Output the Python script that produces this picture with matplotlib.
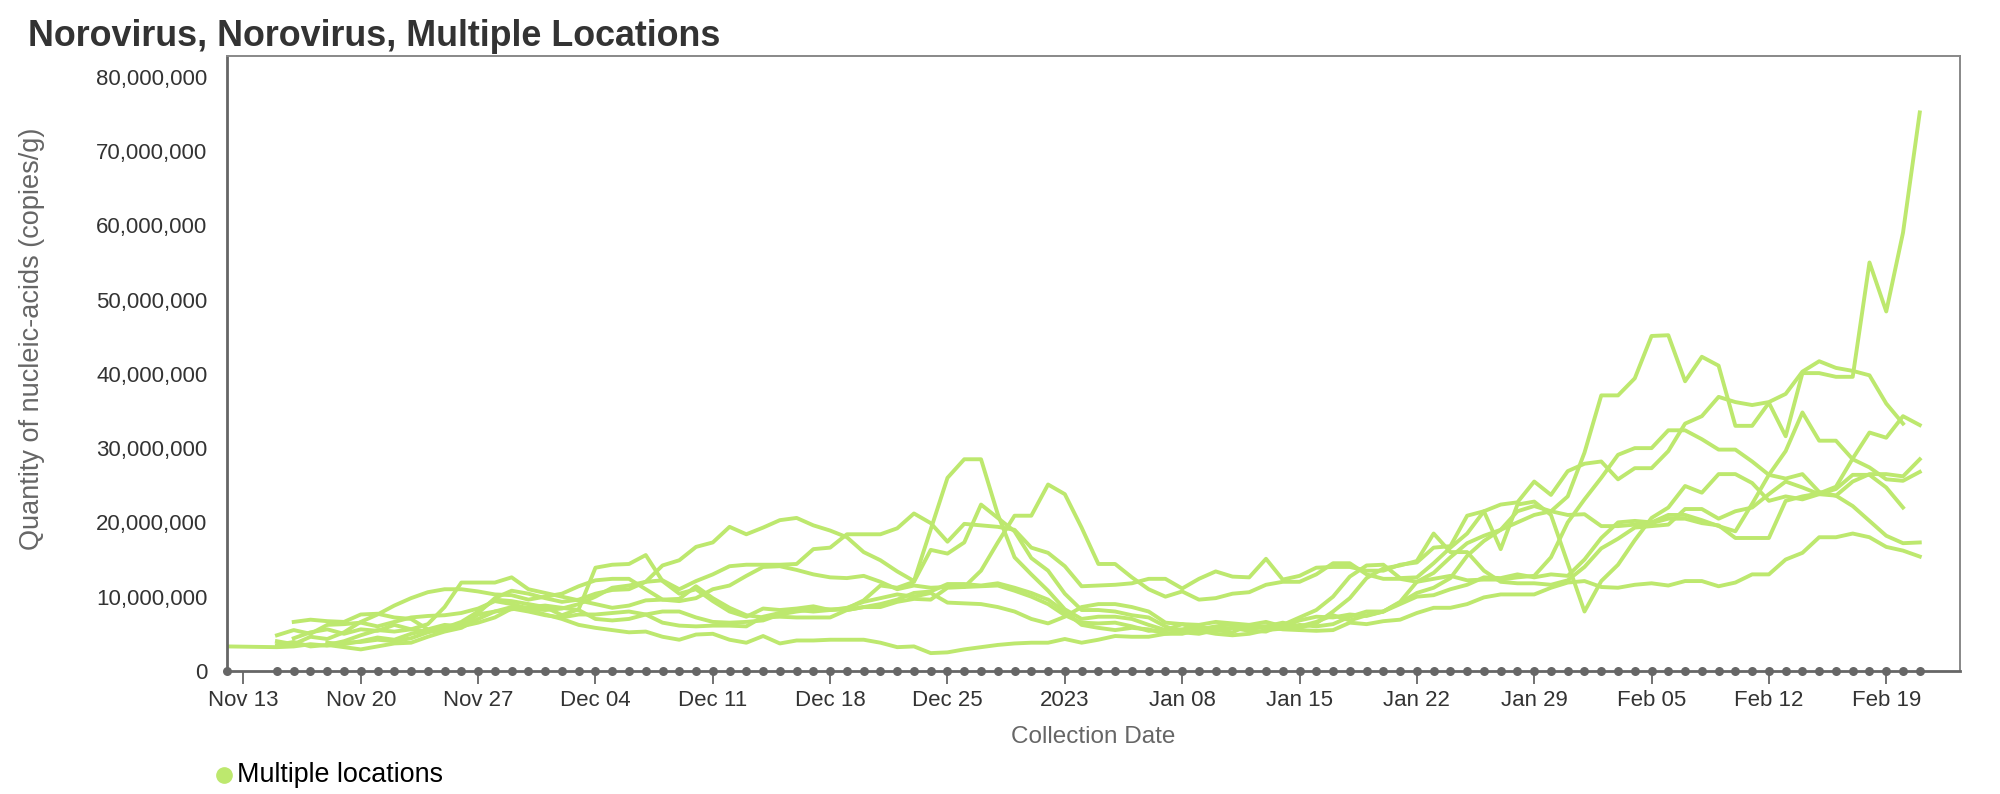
import numpy as np
import pandas as pd
import matplotlib
matplotlib.use('Agg')
import matplotlib.pyplot as plt
from matplotlib.ticker import FuncFormatter

plt.rcParams['font.family'] = ['Liberation Sans', 'DejaVu Sans']

# day 0 = 2022-11-13, values in millions of copies/g
start = pd.Timestamp('2022-11-13')

days_a = list(range(2, 101))
vals_a = [3.5, 3.9, 3.3, 3.5, 3.2, 2.9, 3.3, 3.7, 3.8, 4.6,
          5.3, 5.8, 7.0, 8.0, 8.6, 8.2, 7.6, 7.0, 6.2, 5.8,
          5.5, 5.2, 5.3, 4.6, 4.2, 4.9, 5.0, 4.2, 3.8, 4.7,
          3.7, 4.1, 4.1, 4.2, 4.2, 4.2, 3.8, 3.2, 3.3, 2.4,
          2.5, 2.9, 3.2, 3.5, 3.7, 3.8, 3.8, 4.3, 3.8, 4.2,
          4.7, 4.6, 4.6, 5.0, 5.0, 5.6, 5.6, 5.8, 6.0, 6.0,
          5.6, 5.5, 5.4, 5.5, 6.5, 6.3, 6.7, 6.9, 7.8, 8.5,
          8.5, 9.0, 9.9, 10.3, 10.3, 10.3, 11.2, 11.9, 12.1, 11.3,
          11.2, 11.6, 11.8, 11.5, 12.1, 12.1, 11.4, 11.9, 13.0, 13.0,
          15.0, 15.9, 18.0, 18.0, 18.5, 18.0, 16.7, 16.2, 15.4]

days_b = list(range(3, 101))
vals_b = [6.6, 6.9, 6.7, 6.6, 7.6, 7.7, 7.2, 7.0, 5.6, 6.2,
          6.0, 6.5, 7.2, 8.4, 8.0, 7.5, 7.2, 7.6, 7.6, 7.8,
          8.0, 7.6, 6.5, 6.1, 6.0, 6.1, 6.1, 6.0, 7.3, 7.8,
          8.2, 8.0, 8.2, 8.5, 9.3, 9.8, 10.3, 10.0, 10.5, 9.2,
          9.1, 9.0, 8.6, 8.0, 7.0, 6.4, 7.3, 8.6, 9.0, 9.0,
          8.6, 8.0, 6.5, 6.3, 6.2, 6.6, 6.4, 6.2, 5.9, 6.0,
          6.8, 7.3, 7.2, 7.6, 7.4, 8.0, 9.3, 12.0, 13.2, 15.3,
          17.2, 18.2, 19.0, 21.5, 22.2, 21.5, 23.5, 29.4, 37.1, 37.1,
          39.4, 45.1, 45.2, 39.0, 42.3, 41.1, 33.0, 33.0, 36.1, 31.6,
          40.1, 40.1, 39.6, 39.6, 55.0, 48.4, 59.0, 75.2]

days_c = list(range(2, 41)) + list(range(42, 101))
vals_c = [4.8, 5.5, 5.0, 6.2, 6.3, 6.5, 6.0, 6.6, 7.2, 7.4,
          7.5, 7.8, 8.4, 9.4, 9.0, 8.4, 8.2, 8.4, 9.0, 10.0,
          11.2, 11.5, 12.0, 14.2, 14.9, 16.7, 17.3, 19.4, 18.4, 19.3,
          20.3, 20.6, 19.6, 18.9, 18.0, 16.0, 14.9, 13.4, 12.1,
          26.0, 28.5, 28.5, 21.1, 15.3, 13.0, 10.8, 8.3, 7.0, 7.3,
          7.3, 7.0, 6.2, 5.5, 5.6, 6.0, 5.5, 5.2, 6.2, 6.6,
          6.0, 5.8, 6.4, 8.0, 9.8, 12.5, 13.8, 14.2, 14.8, 18.5,
          16.0, 16.0, 13.5, 12.0, 11.8, 11.8, 11.6, 12.2, 14.0, 16.5,
          17.8, 19.3, 19.5, 19.7, 21.8, 21.8, 20.5, 21.5, 22.0, 23.8,
          25.5, 24.7, 23.8, 23.6, 25.5, 26.5, 26.5, 26.2, 28.5]

days_d = list(range(5, 100))
vals_d = [3.8, 3.6, 4.0, 4.5, 4.2, 5.0, 5.5, 5.8, 6.6, 8.0,
          9.6, 9.4, 9.0, 8.6, 7.5, 8.3, 13.9, 14.3, 14.4, 15.6,
          12.1, 10.4, 11.0, 9.4, 8.0, 7.3, 8.4, 8.2, 8.4, 8.7,
          8.2, 8.4, 9.5, 11.5, 11.2, 12.0, 16.3, 15.8, 17.3, 22.4,
          20.6, 18.8, 15.2, 13.5, 10.4, 8.2, 8.2, 8.0, 7.5, 7.2,
          6.0, 5.2, 5.0, 5.5, 5.8, 5.4, 5.3, 6.2, 7.2, 8.2,
          10.0, 12.7, 14.2, 14.3, 12.5, 12.6, 14.5, 16.6, 18.5, 21.5,
          16.4, 22.4, 22.8, 21.0, 14.5, 8.0, 12.1, 14.3, 17.6, 20.6,
          22.0, 24.9, 24.0, 26.5, 26.5, 25.3, 22.9, 23.5, 23.1, 23.8,
          24.5, 26.4, 26.4, 24.7, 22.0]

days_e = list(range(3, 100))
vals_e = [4.4, 5.2, 5.6, 5.0, 5.6, 5.4, 6.2, 5.6, 5.3, 5.9,
          6.3, 7.8, 9.8, 10.8, 10.4, 9.8, 9.3, 9.6, 10.4, 10.9,
          11.0, 12.0, 12.2, 11.0, 12.1, 13.0, 14.1, 14.3, 14.3, 14.3,
          14.4, 16.4, 16.6, 18.4, 18.4, 18.4, 19.2, 21.2, 19.9, 17.4,
          19.8, 19.6, 19.4, 19.0, 16.6, 15.9, 14.1, 11.4, 11.5, 11.6,
          11.8, 12.4, 12.4, 11.1, 12.4, 13.4, 12.7, 12.6, 15.1, 12.3,
          12.8, 13.9, 14.0, 14.0, 13.5, 13.5, 14.3, 14.6, 16.6, 16.8,
          20.9, 21.5, 22.4, 22.7, 25.5, 23.7, 26.9, 27.9, 28.2, 25.8,
          27.3, 27.3, 29.6, 33.3, 34.3, 36.9, 36.2, 35.8, 36.2, 37.3,
          40.3, 41.7, 40.8, 40.4, 39.8, 36.0, 33.3]

days_f = list(range(2, 101))
vals_f = [4.0, 3.6, 4.6, 4.3, 5.2, 6.6, 7.6, 8.8, 9.8, 10.6,
          11.0, 11.0, 10.7, 10.3, 10.2, 9.6, 10.0, 10.4, 11.4, 12.2,
          12.4, 12.4, 11.0, 9.6, 9.4, 9.8, 11.0, 11.5, 12.8, 14.0,
          14.1, 13.6, 13.0, 12.6, 12.5, 12.8, 12.0, 11.0, 11.5, 11.2,
          11.3, 11.3, 13.5, 17.3, 20.9, 20.9, 25.1, 23.8, 19.3, 14.4,
          14.4, 12.6, 11.0, 10.0, 10.7, 9.6, 9.8, 10.4, 10.6, 11.6,
          12.0, 12.0, 13.0, 14.5, 14.5, 13.0, 12.4, 12.4, 12.0, 12.4,
          12.8, 12.2, 12.3, 12.3, 12.6, 12.8, 15.3, 20.0, 23.1, 26.0,
          29.1, 30.0, 30.0, 32.4, 32.4, 31.2, 29.8, 29.8, 28.2, 26.4,
          25.9, 26.5, 24.1, 23.6, 22.2, 20.2, 18.2, 17.2, 17.3]

days_g = list(range(5, 101))
vals_g = [3.5, 4.0, 4.8, 5.5, 5.3, 5.6, 6.3, 8.6, 11.9, 11.9,
          11.9, 12.6, 11.0, 10.5, 10.0, 9.5, 9.0, 8.5, 8.8, 9.5,
          9.6, 9.7, 11.4, 9.8, 8.5, 7.5, 7.2, 7.3, 7.2, 7.2,
          7.2, 8.2, 8.6, 8.6, 9.3, 9.7, 9.6, 11.2, 11.3, 11.4,
          11.5, 10.8, 10.0, 9.0, 7.5, 6.5, 6.4, 6.5, 6.0, 5.4,
          5.5, 6.3, 5.6, 6.0, 6.3, 5.6, 6.0, 6.5, 6.0, 6.6,
          7.5, 6.8, 7.5, 8.0, 9.2, 10.5, 11.2, 12.5, 15.5, 17.5,
          19.0, 20.0, 21.0, 21.5, 21.0, 21.1, 19.5, 19.5, 19.7, 19.9,
          20.5, 20.5, 19.9, 19.6, 17.9, 17.9, 17.9, 22.9, 23.5, 23.9,
          24.8, 28.6, 32.1, 31.4, 34.3, 33.1]

days_h = [-1] + list(range(2, 101))
vals_h = [3.3,
          3.2, 3.3, 3.6, 3.4, 3.8, 3.9, 4.2, 4.0, 4.4, 5.2,
          5.6, 6.0, 7.6, 8.0, 8.3, 8.6, 8.8, 8.5, 8.2, 7.0,
          6.8, 7.0, 7.6, 8.0, 8.0, 7.2, 6.6, 6.5, 6.6, 6.8,
          7.6, 8.0, 8.3, 8.3, 8.2, 8.6, 9.0, 9.6, 10.5, 10.7,
          11.7, 11.7, 11.5, 11.8, 11.2, 10.5, 9.6, 8.0, 6.2, 5.8,
          5.5, 5.8, 5.6, 5.0, 5.3, 5.4, 5.0, 4.8, 5.0, 5.5,
          5.7, 6.2, 6.0, 6.3, 7.3, 8.0, 8.0, 9.0, 10.0, 10.2,
          11.0, 11.6, 12.6, 12.5, 13.0, 12.6, 13.0, 12.8, 15.0, 17.9,
          20.0, 20.2, 20.0, 21.0, 21.0, 20.3, 19.5, 18.8, 22.5, 26.4,
          29.6, 34.8, 31.0, 31.0, 28.5, 27.4, 25.8, 25.6, 26.8]

tick_days = [0, 7, 14, 21, 28, 35, 42, 49, 56, 63, 70, 77, 84, 91, 98]
tick_labels = ['Nov 13', 'Nov 20', 'Nov 27', 'Dec 04', 'Dec 11', 'Dec 18',
               'Dec 25', '2023', 'Jan 08', 'Jan 15', 'Jan 22', 'Jan 29',
               'Feb 05', 'Feb 12', 'Feb 19']

series = [(days_a, vals_a), (days_b, vals_b), (days_c, vals_c),
          (days_d, vals_d), (days_e, vals_e), (days_f, vals_f),
          (days_g, vals_g), (days_h, vals_h)]

green = '#bde86e'


def to_dates(d):
    return start + pd.to_timedelta(np.array(d, dtype=float), unit='D')


fig = plt.figure(figsize=(20, 7.94), dpi=100)
ax = fig.add_axes([0.1135, 0.155, 0.8665, 0.7745])

for d, v in series:
    ax.plot(to_dates(d), np.array(v) * 1e6, color=green, lw=2.8)

# sample dates marked along the zero line
all_days = sorted(set().union(*[set(d) for d, _ in series]))
ax.scatter(to_dates(all_days), np.zeros(len(all_days)), s=42, color='#666666',
           zorder=5, clip_on=False, linewidths=0)

ax.set_xlim(to_dates([-0.98])[0], to_dates([102.4])[0])
ax.set_ylim(0, 82.8e6)
ax.set_xticks(to_dates(tick_days))
ax.set_xticklabels(tick_labels)
ax.set_yticks(np.arange(0, 80.1e6, 10e6))
ax.yaxis.set_major_formatter(FuncFormatter(lambda v, p: '{:,.0f}'.format(v)))

ax.tick_params(axis='y', length=0, pad=14, labelsize=16, labelcolor='#333333')
ax.tick_params(axis='x', length=9, width=1.3, color='#666666', pad=5,
               labelsize=16, labelcolor='#333333')

for side in ['top', 'right']:
    ax.spines[side].set_color('#888888')
    ax.spines[side].set_linewidth(1.4)
for side in ['left', 'bottom']:
    ax.spines[side].set_color('#666666')
    ax.spines[side].set_linewidth(2.0)

fig.text(0.014, 1 - 46 / 794, 'Norovirus, Norovirus, Multiple Locations',
         fontsize=25.8, fontweight='bold', color='#333333', va='baseline')
fig.text(0.016, 1 - 339 / 794, 'Quantity of nucleic-acids (copies/g)',
         rotation=90, ha='center', va='center', fontsize=19.5, color='#666666')
fig.text(1093 / 2000, 1 - 737 / 794, 'Collection Date', ha='center',
         va='center', fontsize=17.5, color='#666666')

# legend
fig.lines.append(plt.Line2D([224 / 2000], [1 - 775 / 794], marker='o',
                            markersize=11, color=green, linestyle='none',
                            transform=fig.transFigure))
fig.text(237 / 2000, 1 - 775 / 794, 'Multiple locations', va='center',
         fontsize=19.4, color='black')

fig.savefig('out.png', dpi=100)
